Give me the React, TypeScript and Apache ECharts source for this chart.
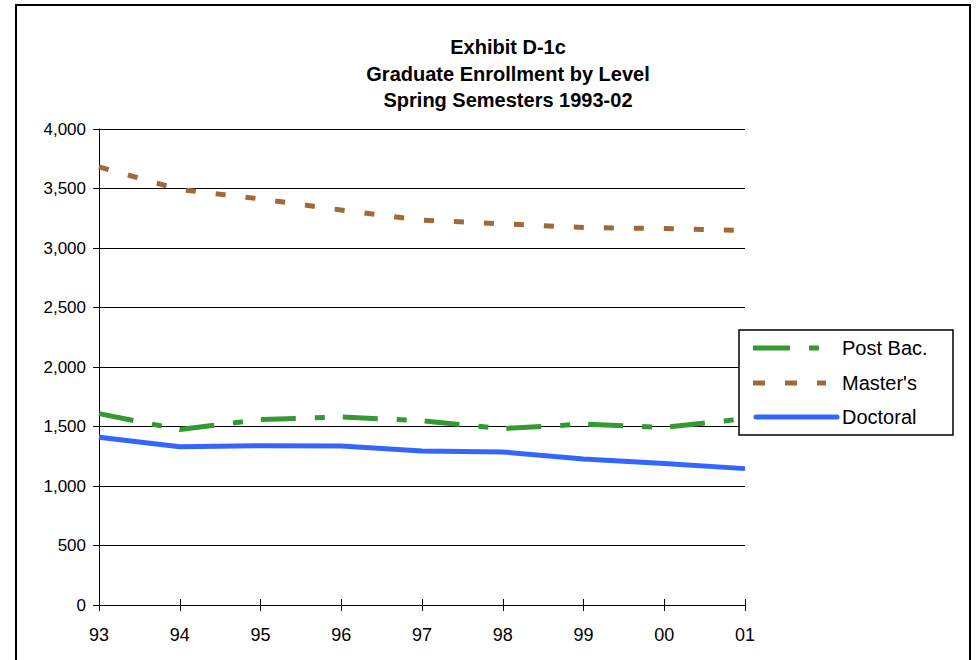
import React, { useEffect, useRef } from "react";
import * as echarts from "echarts";

const years = ["93", "94", "95", "96", "97", "98", "99", "00", "01"];
const postBac = [1608, 1474, 1558, 1580, 1548, 1482, 1520, 1492, 1566];
const masters = [3681, 3492, 3412, 3319, 3234, 3203, 3172, 3163, 3148];
const doctoral = [1409, 1330, 1339, 1336, 1294, 1286, 1227, 1190, 1146];
const titleLines = ["Exhibit D-1c", "Graduate Enrollment by Level", "Spring Semesters 1993-02"];
const seriesNames = ["Post Bac.", "Master's", "Doctoral"];

const FONT = "'Liberation Sans', Arial, sans-serif";
const COLORS = ["#339933", "#a0693a", "#3366ff"];
const DASHES: (number[] | null)[] = [[35, 19, 10, 18], [10, 20], null];

export default function App() {
  const ref = useRef<HTMLDivElement>(null);
  useEffect(() => {
    if (!ref.current) return;
    const chart = echarts.init(ref.current, null, { renderer: "svg" });
    const fmt = (v: number) => v.toLocaleString("en-US");

    const legendX = 739;
    const legendY = 330;
    const rowYs = [348, 383, 417];
    const iconEnds = [820, 826, 837];
    const legendGraphics: any[] = [
      {
        type: "rect",
        shape: { x: legendX, y: legendY, width: 214, height: 105 },
        style: { fill: "#fff", stroke: "#000", lineWidth: 1.5 },
        z: 10,
        silent: true,
      },
    ];
    seriesNames.forEach((name, i) => {
      legendGraphics.push({
        type: "line",
        shape: { x1: DASHES[i] ? 753 : 756, y1: rowYs[i], x2: iconEnds[i], y2: rowYs[i] },
        style: {
          stroke: COLORS[i],
          lineWidth: 5,
          lineDash: DASHES[i] ? [DASHES[i]![0] + 2, DASHES[i]![1], ...DASHES[i]!.slice(2)] : undefined,
          lineCap: DASHES[i] ? "butt" : "round",
        },
        z: 11,
        silent: true,
      });
      legendGraphics.push({
        type: "text",
        x: 842,
        y: rowYs[i],
        style: {
          text: name,
          fontSize: 20,
          fontFamily: FONT,
          fill: "#000",
          verticalAlign: "middle",
        },
        z: 11,
        silent: true,
      });
    });

    chart.setOption({
      animation: false,
      backgroundColor: "#fff",
      title: {
        text: titleLines.join("\n"),
        left: 503,
        top: 29,
        textAlign: "center",
        textStyle: { fontSize: 20, fontWeight: "bold", lineHeight: 26.5, color: "#000", fontFamily: FONT },
      },
      graphic: [
        {
          type: "rect",
          shape: { x: 16, y: 5, width: 954, height: 720 },
          style: { fill: "none", stroke: "#000", lineWidth: 2 },
          silent: true,
        },
        ...legendGraphics,
      ],
      grid: { left: 99, right: 231, top: 129, bottom: 55, containLabel: false },
      xAxis: [
        {
          type: "category",
          data: years,
          boundaryGap: false,
          axisLine: { show: true, lineStyle: { color: "#000", width: 1 } },
          axisTick: { show: true, length: 6, lineStyle: { color: "#000" } },
          axisLabel: { fontSize: 18, color: "#000", fontFamily: FONT, margin: 21 },
          splitLine: { show: false },
        },
        {
          type: "category",
          data: years,
          boundaryGap: false,
          position: "bottom",
          axisLine: { show: false },
          axisTick: { show: true, inside: true, length: 6, lineStyle: { color: "#000" } },
          axisLabel: { show: false },
          splitLine: { show: false },
        },
      ],
      yAxis: [
        {
          type: "value",
          min: 0,
          max: 4000,
          interval: 500,
          axisLine: { show: true, lineStyle: { color: "#000", width: 1 } },
          axisTick: { show: true, length: 6, lineStyle: { color: "#000" } },
          axisLabel: { fontSize: 17, color: "#000", fontFamily: FONT, margin: 13, formatter: fmt },
          splitLine: { show: true, lineStyle: { color: "#000", width: 1 } },
        },
        {
          type: "value",
          min: 0,
          max: 4000,
          interval: 500,
          position: "left",
          axisLine: { show: false },
          axisTick: { show: true, inside: true, length: 6, lineStyle: { color: "#000" } },
          axisLabel: { show: false },
          splitLine: { show: false },
        },
      ],
      series: [
        {
          name: seriesNames[0],
          type: "line",
          data: postBac,
          symbol: "none",
          color: COLORS[0],
          lineStyle: { color: COLORS[0], width: 5, type: DASHES[0] },
          z: 3,
        },
        {
          name: seriesNames[1],
          type: "line",
          data: masters,
          symbol: "none",
          color: COLORS[1],
          lineStyle: { color: COLORS[1], width: 5, type: DASHES[1] },
          z: 3,
        },
        {
          name: seriesNames[2],
          type: "line",
          data: doctoral,
          symbol: "none",
          color: COLORS[2],
          lineStyle: { color: COLORS[2], width: 5, type: "solid" },
          z: 3,
        },
      ],
    });
    return () => chart.dispose();
  }, []);
  return (
    <div
      ref={ref}
      style={{ position: "absolute", left: 0, top: 0, width: 976, height: 660 }}
    />
  );
}
